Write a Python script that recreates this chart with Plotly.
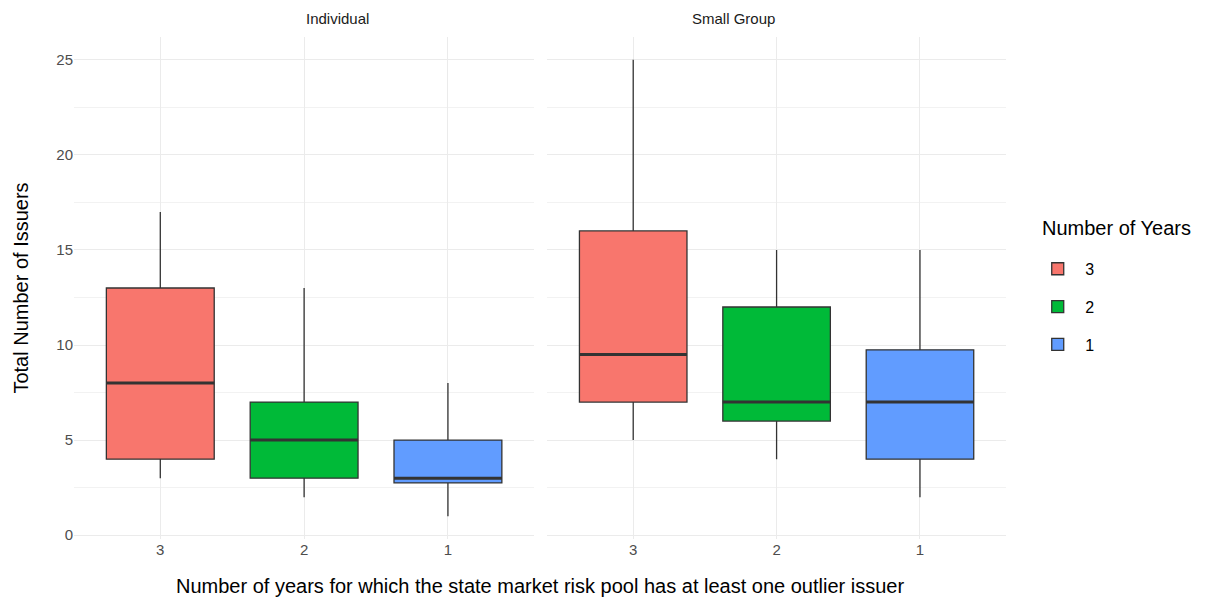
import plotly.graph_objects as go

panels = ["Individual", "Small Group"]
years = ["3", "2", "1"]
colors = {"3": "#F8766D", "2": "#00BA38", "1": "#619CFF"}

# stats per panel, ordered by years (3, 2, 1)
ind_min = [3, 2, 1]
ind_q1 = [4, 3, 2.75]
ind_med = [8, 5, 3]
ind_q3 = [13, 7, 5]
ind_max = [17, 13, 8]

sg_min = [5, 4, 2]
sg_q1 = [7, 6, 4]
sg_med = [9.5, 7, 7]
sg_q3 = [16, 12, 9.75]
sg_max = [25, 15, 15]

stats = {
    "Individual": (ind_min, ind_q1, ind_med, ind_q3, ind_max),
    "Small Group": (sg_min, sg_q1, sg_med, sg_q3, sg_max),
}

FONT = "Liberation Sans, Arial, sans-serif"
BOXW = 0.75
fig = go.Figure()

for pi, panel in enumerate(panels):
    xa = "x" if pi == 0 else "x2"
    mn, q1, md, q3, mx = stats[panel]
    for i, yr in enumerate(years):
        pos = i + 1
        fig.add_trace(go.Box(
            x=[pos], q1=[q1[i]], median=[md[i]], q3=[q3[i]],
            lowerfence=[mn[i]], upperfence=[mx[i]],
            width=BOXW, whiskerwidth=0,
            fillcolor=colors[yr], line=dict(color="#333333", width=1.3),
            name=yr, legendgroup=yr, showlegend=(pi == 0),
            xaxis=xa, yaxis="y", hoverinfo="skip", boxpoints=False,
        ))
        # thicker median line (ggplot fatten)
        fig.add_trace(go.Scatter(
            x=[pos - BOXW / 2, pos + BOXW / 2], y=[md[i], md[i]],
            mode="lines", line=dict(color="#333333", width=3),
            showlegend=False, hoverinfo="skip", xaxis=xa, yaxis="y",
        ))

tick_font = dict(family=FONT, size=15, color="#4D4D4D")
xcommon = dict(
    range=[0.4, 3.6], tickvals=[1, 2, 3], ticktext=years,
    showgrid=True, gridcolor="#EBEBEB", gridwidth=1.2, zeroline=False,
    showline=False, ticks="", tickfont=tick_font, anchor="y",
)
fig.update_layout(
    width=1230, height=599,
    paper_bgcolor="white", plot_bgcolor="white",
    margin=dict(l=74, r=224, t=37, b=60, autoexpand=False),
    xaxis=dict(domain=[0, 0.4938], **xcommon),
    xaxis2=dict(domain=[0.5077, 1], **xcommon),
    yaxis=dict(
        range=[-0.2, 26.2], tickvals=[0, 5, 10, 15, 20, 25],
        showgrid=True, gridcolor="#EBEBEB", gridwidth=1.2, zeroline=False,
        showline=False, ticks="", tickfont=tick_font,
        minor=dict(dtick=2.5, tick0=0, showgrid=True, gridcolor="#F2F2F2", gridwidth=0.8),
        title=dict(text="Total Number of Issuers", font=dict(family=FONT, size=20, color="black"), standoff=22),
    ),
    legend=dict(
        font=dict(family=FONT, size=16, color="black"),
        x=1.026, y=0.572, xanchor="left", yanchor="top",
        traceorder="grouped", tracegroupgap=14, itemwidth=45,
    ),
    showlegend=True,
)

# legend title
fig.add_annotation(
    x=1.036, y=0.62, xref="paper", yref="paper", xanchor="left", yanchor="middle",
    text="Number of Years", showarrow=False,
    font=dict(family=FONT, size=20, color="black"),
)

# facet strip labels
for pi, panel in enumerate(panels):
    xd = [0, 0.4938] if pi == 0 else [0.5077, 1]
    fig.add_annotation(
        x=(xd[0] + xd[1]) / 2, y=1.0, xref="paper", yref="paper",
        yshift=8, yanchor="bottom", text=panel, showarrow=False,
        font=dict(family=FONT, size=15, color="#1A1A1A"),
    )

fig.add_annotation(
    x=0.5, y=0, xref="paper", yref="paper", yshift=-34, yanchor="top",
    text="Number of years for which the state market risk pool has at least one outlier issuer",
    showarrow=False, font=dict(family=FONT, size=20, color="black"),
)

fig.write_html("out.html", config={"displayModeBar": False},
               post_script="document.body.style.margin='0';")
